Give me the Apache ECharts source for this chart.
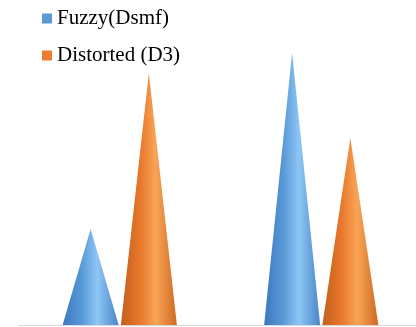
<!DOCTYPE html>
<html>
<head>
<meta charset="utf-8">
<script src="https://cdn.jsdelivr.net/npm/echarts@6/dist/echarts.min.js"></script>
<style>
  html, body { margin: 0; padding: 0; background: #fff; }
  #chart { width: 416px; height: 327px; }
</style>
</head>
<body>
<div id="chart"></div>
<script>
// groups along the x axis (no labels shown in the original)
const categories = ["A", "B"];
const fuzzyValues = [96, 272];
const distortedValues = [252, 187];
const seriesNames = ["Fuzzy(Dsmf)", "Distorted (D3)"];

const FONT = '"Liberation Serif", "Times New Roman", serif';

// horizontal shading so the triangles read as cones
function coneGradient(dark, base, light, edge) {
  return {
    type: "linear", x: 0, y: 0, x2: 1, y2: 0,
    colorStops: [
      { offset: 0, color: dark },
      { offset: 0.35, color: base },
      { offset: 0.62, color: light },
      { offset: 1, color: edge }
    ]
  };
}

const blueFill = coneGradient("#3b78bf", "#5a9ad8", "#8ec6f6", "#4a86c8");
const orangeFill = coneGradient("#c25f1c", "#e8782c", "#f9a456", "#cf6a22");

const chart = echarts.init(document.getElementById("chart"), null, { renderer: "canvas" });

chart.setOption({
  backgroundColor: "#ffffff",
  animation: false,
  textStyle: { fontFamily: FONT },
  legend: {
    orient: "vertical",
    left: 37,
    top: 3,
    itemWidth: 10,
    itemHeight: 10,
    itemGap: 16,
    icon: "rect",
    textStyle: { fontFamily: FONT, fontSize: 21, color: "#000" },
    data: [
      { name: seriesNames[0], itemStyle: { color: "#5b9bd5" } },
      { name: seriesNames[1], itemStyle: { color: "#ed7d31" } }
    ]
  },
  grid: { left: 19, top: 25, width: 403, bottom: 2, outerBoundsMode: "none" },
  xAxis: {
    type: "category",
    data: categories,
    axisLine: { show: true, lineStyle: { color: "#d9d9d9", width: 1 } },
    axisTick: { show: false },
    axisLabel: { show: false }
  },
  yAxis: {
    type: "value",
    min: 0,
    max: 300,
    axisLine: { show: false },
    axisTick: { show: false },
    axisLabel: { show: false },
    splitLine: { show: false }
  },
  series: [
    {
      name: seriesNames[0],
      type: "pictorialBar",
      symbol: "triangle",
      symbolSize: ["100%", "100%"],
      barWidth: 56,
      barGap: "4%",
      itemStyle: { color: blueFill },
      data: fuzzyValues
    },
    {
      name: seriesNames[1],
      type: "pictorialBar",
      symbol: "triangle",
      symbolSize: ["100%", "100%"],
      barWidth: 56,
      barGap: "4%",
      itemStyle: { color: orangeFill },
      data: distortedValues
    }
  ]
});
</script>
</body>
</html>
